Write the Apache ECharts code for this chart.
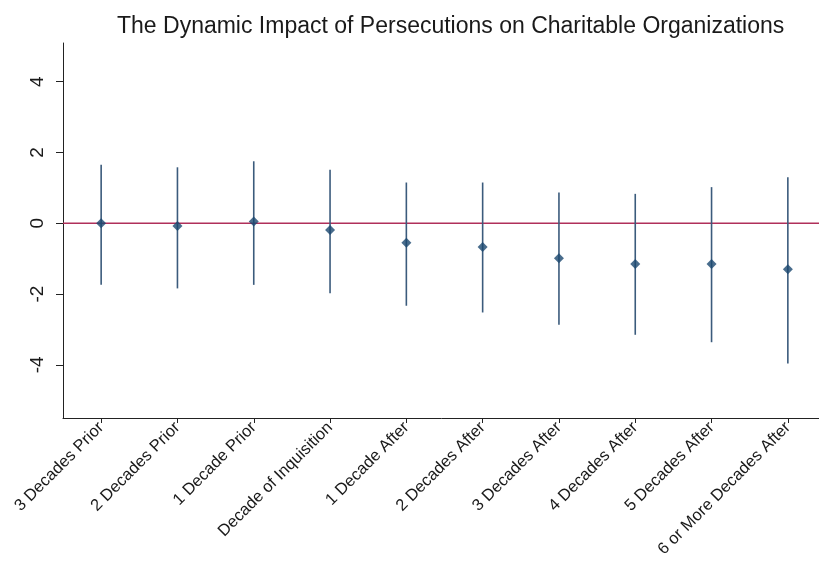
<!DOCTYPE html>
<html>
<head>
<meta charset="utf-8">
<script src="https://cdn.jsdelivr.net/npm/echarts@6/dist/echarts.min.js"></script>
<style>
  html, body { margin: 0; padding: 0; background: #fff; }
  #main { width: 819px; height: 562px; }
</style>
</head>
<body>
<div id="main"></div>
<script>
// coefficient plot: point estimate + confidence interval per period
var categories = ['3 Decades Prior', '2 Decades Prior', '1 Decade Prior', 'Decade of Inquisition',
  '1 Decade After', '2 Decades After', '3 Decades After', '4 Decades After',
  '5 Decades After', '6 or More Decades After'];
var estimates = [0.0, -0.08, 0.05, -0.19, -0.55, -0.67, -0.99, -1.15, -1.15, -1.30];
var lower = [-1.74, -1.84, -1.74, -1.98, -2.33, -2.52, -2.87, -3.15, -3.36, -3.96];
var upper = [1.65, 1.58, 1.75, 1.51, 1.15, 1.15, 0.87, 0.83, 1.02, 1.30];
var yTicks = [-4, -2, 0, 2, 4];
var refLine = 0;

var myChart = echarts.init(document.getElementById('main'));

var ciData = categories.map(function (c, i) { return [i, lower[i], upper[i]]; });

var option = {
  animation: false,
  backgroundColor: '#fff',
  title: {
    text: 'The Dynamic Impact of Persecutions on Charitable Organizations',
    left: 112,
    top: 10,
    textStyle: { fontFamily: 'Liberation Sans, Arial', fontSize: 23, fontWeight: 'normal', color: '#1a1a1a' }
  },
  grid: { left: 63, right: -7, top: 43, bottom: 144, outerBoundsMode: 'none' },
  xAxis: {
    type: 'category',
    data: categories,
    axisLine: { onZero: false, lineStyle: { color: '#222', width: 1 } },
    axisTick: { show: true, alignWithLabel: true, length: 5, lineStyle: { color: '#222' } },
    axisLabel: {
      interval: 0, rotate: 45, margin: 7,
      fontFamily: 'Liberation Sans, Arial', fontSize: 16.5, color: '#1a1a1a'
    },
    splitLine: { show: false }
  },
  yAxis: {
    type: 'value',
    min: -5.5,
    max: 5.09,
    axisLine: { show: true, lineStyle: { color: '#222', width: 1 } },
    axisTick: { show: true, length: 7, customValues: yTicks, lineStyle: { color: '#222' } },
    axisLabel: {
      customValues: yTicks, rotate: 90, margin: 16,
      fontFamily: 'Liberation Sans, Arial', fontSize: 19, color: '#1a1a1a'
    },
    splitLine: { show: false }
  },
  series: [
    {
      type: 'custom',
      z: 3,
      data: ciData,
      encode: { x: 0, y: [1, 2] },
      renderItem: function (params, api) {
        var x = api.value(0);
        var lo = api.coord([x, api.value(1)]);
        var hi = api.coord([x, api.value(2)]);
        var items = [];
        if (params.dataIndex === 0) {
          // horizontal reference line at 0 across the whole plot
          var cs = params.coordSys;
          var yRef = api.coord([0, refLine])[1];
          items.push({
            type: 'line',
            shape: { x1: cs.x, y1: yRef, x2: cs.x + cs.width, y2: yRef },
            style: { stroke: '#b0305a', lineWidth: 1.3 },
            z2: 1
          });
        }
        items.push({
          type: 'line',
          shape: { x1: lo[0], y1: lo[1], x2: hi[0], y2: hi[1] },
          style: { stroke: '#3b5b7c', lineWidth: 1.6 },
          z2: 2
        });
        return { type: 'group', children: items };
      }
    },
    {
      type: 'scatter',
      z: 4,
      symbol: 'diamond',
      symbolSize: 10,
      itemStyle: { color: '#1a476f' },
      data: estimates
    }
  ]
};

myChart.setOption(option);
</script>
</body>
</html>
